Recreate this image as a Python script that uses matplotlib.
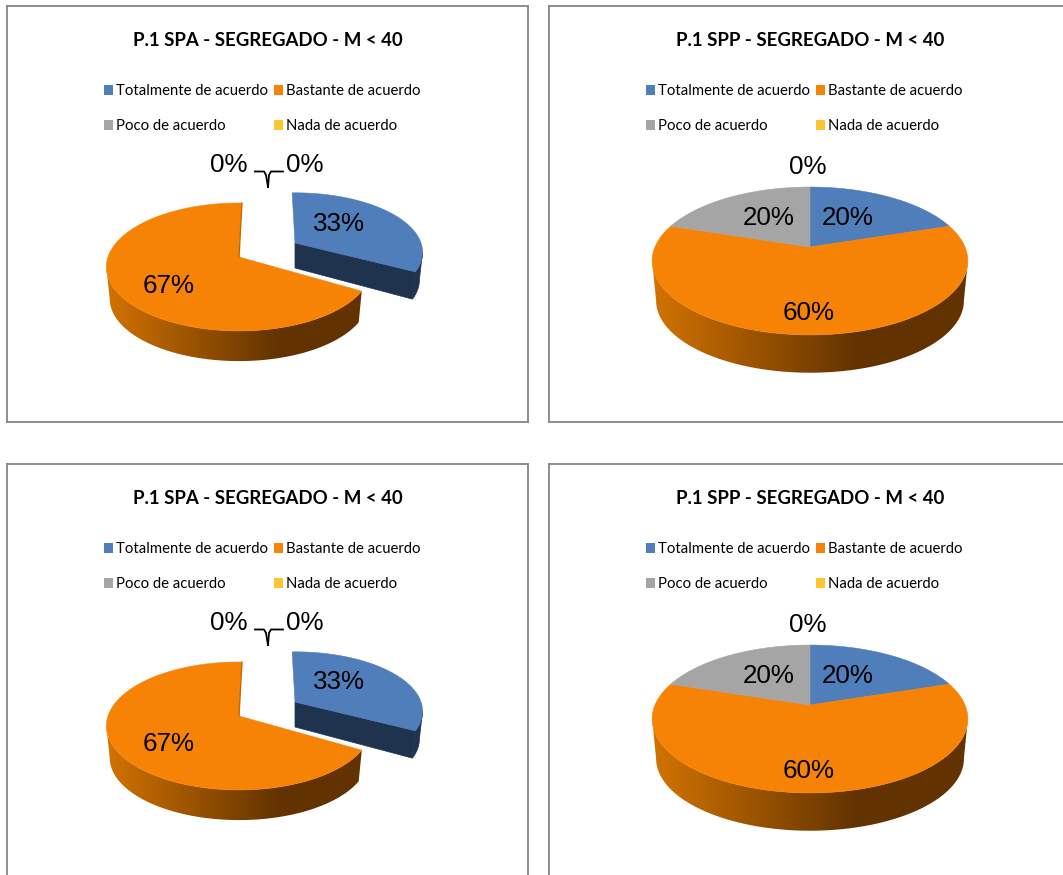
import numpy as np
import matplotlib
matplotlib.use('Agg')
import matplotlib.pyplot as plt
from matplotlib.patches import Patch, Polygon

# Datos
categorias = ['Totalmente de acuerdo', 'Bastante de acuerdo', 'Poco de acuerdo', 'Nada de acuerdo']
valores_spa = [33, 67, 0, 0]
valores_spp = [20, 60, 20, 0]
titulo_spa = 'P.1 SPA - SEGREGADO - M < 40'
titulo_spp = 'P.1 SPP - SEGREGADO - M < 40'

# Colores
colores = ['#4F7EBA', '#F78306', '#A5A5A5', '#FFC52F']
lado_azul = '#1F334F'
naranja_claro = np.array([0xD2, 0x73, 0x02]) / 255
naranja_oscuro = np.array([0x62, 0x33, 0x00]) / 255
color_marco = '#868686'

W, H = 1063, 875
fig = plt.figure(figsize=(W / 100, H / 100), dpi=100, facecolor='white')

# Paneles en pixeles
PANEL_W, PANEL_H = 521, 416


def punto(ang, g, abajo=False):
    # perspectiva sencilla del disco, angulo en grados desde arriba en sentido horario
    t = np.radians(ang)
    u, v = np.sin(t), np.cos(t)
    d = 1 + g['p'] * v
    x = g['A'] * u / d
    y = -g['B'] * v / d
    if abajo:
        return g['cx'] + g['esc'] * x, g['cy'] + g['prof'] + g['esc'] * y
    return g['cx'] + x, g['cy'] + y


def pared(ax, a0, a1, g, dx, dy, lado):
    # la pared visible va de un punto de maxima anchura al otro
    tan = np.degrees(np.arccos(-g['p']))
    a0, a1 = max(a0, tan), min(a1, 360 - tan)
    if a1 <= a0:
        return
    angs = np.linspace(a0, a1, int(a1 - a0) * 2 + 2)
    x_sup, y_sup = punto(angs, g)
    x_inf, y_inf = punto(angs, g, abajo=True)
    pts = list(zip(x_sup + dx, y_sup + dy)) + list(zip(x_inf[::-1] + dx, y_inf[::-1] + dy))
    if lado is not None:
        ax.add_patch(Polygon(pts, facecolor=lado, edgecolor=lado, lw=0.5, zorder=2))
        return
    # degradado horizontal recortado a la pared
    izq = g['cx'] - g['A'] * 1.015
    der = g['cx'] + g['A'] * 1.015
    t = np.clip(np.linspace(0, 1, 256) / 0.65, 0, 1)[None, :, None]
    img = naranja_claro + (naranja_oscuro - naranja_claro) * t
    forma = Polygon(pts, facecolor='none', edgecolor='none', transform=ax.transData)
    ax.add_patch(forma)
    im = ax.imshow(img, extent=(izq, der, g['cy'] + g['B'] * 2, g['cy'] - g['B']), aspect='auto',
                   interpolation='bilinear', zorder=2)
    im.set_clip_path(forma)


def dibuja_porcion(ax, a0, a1, color, g, dx=0, dy=0, giro=0, lado=None):
    angs = np.arange(a0 + giro, a1 + giro + 0.5, 1.0)
    x_sup, y_sup = punto(angs, g)
    x_inf, y_inf = punto(angs, g, abajo=True)

    pared(ax, a0 + giro, a1 + giro, g, dx, dy, lado)

    # cara del corte (solo la porcion separada la muestra)
    if lado is not None:
        xc, yc = g['cx'] + dx, g['cy'] + dy
        xb, yb = x_sup[-1] + dx, y_sup[-1] + dy
        corte = [(xc, yc), (xb, yb), (x_inf[-1] + dx, y_inf[-1] + dy), (xc, yc + g['prof'] - 3)]
        ax.add_patch(Polygon(corte, facecolor=lado, edgecolor=lado, lw=0.5, zorder=2))

    # cara superior
    pts = [(g['cx'] + dx, g['cy'] + dy)] + list(zip(x_sup + dx, y_sup + dy))
    ax.add_patch(Polygon(pts, closed=True, facecolor=color, edgecolor=color, lw=0.4, zorder=3))


def dibuja_panel(px, py, titulo, valores, g, etiquetas, leg_x, separada=False):
    ax = fig.add_axes([px / W, 1 - (py + PANEL_H) / H, PANEL_W / W, PANEL_H / H])
    ax.set_xlim(0, PANEL_W)
    ax.set_ylim(PANEL_H, 0)
    ax.set_autoscale_on(False)
    ax.set_xticks([])
    ax.set_yticks([])
    for s in ax.spines.values():
        s.set_color(color_marco)
        s.set_linewidth(1.3)

    ax.text(261, 34.5, titulo, ha='center', va='center', fontsize=13.4, fontweight='bold',
            family='Lato', color='black')

    # leyenda: se llena por columnas
    orden = [0, 2, 1, 3]
    handles = [Patch(facecolor=colores[i], label=categorias[i]) for i in orden]
    ax.legend(handles=handles, ncol=2, frameon=False, loc='upper left',
              bbox_to_anchor=(leg_x / PANEL_W, 1 - 78 / PANEL_H), borderaxespad=0, borderpad=0,
              prop={'family': 'Lato', 'size': 10.7}, handlelength=0.62, handleheight=0.62,
              handletextpad=0.2, columnspacing=0.4, labelspacing=1.42)

    # porciones
    acum = 0
    for i, v in enumerate(valores):
        if v == 0:
            continue
        a0, a1 = acum * 3.6, (acum + v) * 3.6
        acum += v
        if separada and i == 0:
            g_azul = dict(g, cx=233, A=126, B=58, prof=28)
            dibuja_porcion(ax, a0, a1, colores[i], g_azul, dx=55, dy=-14, giro=-1.5, lado=lado_azul)
        elif separada:
            dibuja_porcion(ax, a0, a1, colores[i], g, giro=1.5)
            # borde del corte
            xe, ye = punto(a1 + 1.5, g)
            ax.plot([g['cx'], xe], [g['cy'], ye], color='#C26A02', lw=1.0, zorder=4)
        else:
            dibuja_porcion(ax, a0, a1, colores[i], g)

    for (x, y), v in etiquetas:
        ax.text(x, y, f'{v}%', ha='center', va='center', fontsize=18.7, family='Liberation Sans',
                color='black', zorder=6)

    if separada:
        # lineas guia de las etiquetas de 0%
        ax.plot([248, 257, 259, 261], [165.5, 165.5, 169, 181], color='black', lw=1.3, zorder=5)
        ax.plot([276, 264, 262, 261], [165.5, 165.5, 169, 181], color='black', lw=1.3, zorder=5)
    return ax


geo_spa = dict(cx=232, cy=251, A=131, B=62.4, p=0.156, prof=32, esc=0.975)
geo_spp = dict(cx=261, cy=241, A=155, B=71.3, p=0.189, prof=40, esc=0.975)

et_spa = [((332, 218), valores_spa[0]), ((162, 280), valores_spa[1]),
          ((222, 159), valores_spa[2]), ((298, 159), valores_spa[3])]
et_spp = [((299, 212), valores_spp[0]), ((260, 307), valores_spp[1]),
          ((220, 212), valores_spp[2]), ((259, 161), valores_spp[3])]

dibuja_panel(7, 6, titulo_spa, valores_spa, geo_spa, et_spa, 97, separada=True)
dibuja_panel(549, 6, titulo_spp, valores_spp, geo_spp, et_spp, 97)

geo_spa2 = dict(geo_spa, cy=252)
dibuja_panel(7, 464, titulo_spa, valores_spa, geo_spa2, et_spa, 97, separada=True)
dibuja_panel(549, 464, titulo_spp, valores_spp, geo_spp, et_spp, 97)

fig.savefig('out.png', dpi=100, facecolor='white')
